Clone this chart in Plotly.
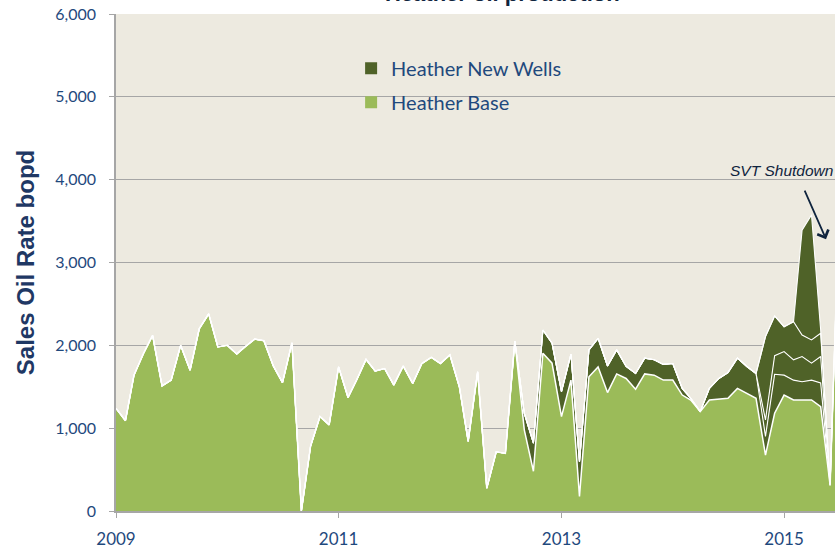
import plotly.graph_objects as go
import pandas as pd

# Monthly dates Jan 2009 .. Jul 2015
months = pd.date_range("2009-01-01", "2015-07-01", freq="MS")

base = [
    1240, 1090, 1640, 1900, 2120, 1510, 1580, 2000, 1700, 2200, 2380, 1980,  # 2009
    2000, 1895, 1985, 2075, 2055, 1750, 1550, 2030, 0, 780, 1140, 1040,      # 2010
    1740, 1370, 1580, 1830, 1690, 1720, 1520, 1750, 1540, 1780, 1855, 1780,  # 2011
    1885, 1500, 840, 1680, 275, 715, 695, 2050, 980, 480, 1905, 1785,        # 2012
    1140, 1580, 175, 1620, 1740, 1430, 1655, 1600, 1470, 1655, 1640, 1580,   # 2013
    1580, 1400, 1340, 1200, 1340, 1350, 1360, 1480, 1420, 1360, 675, 1180,   # 2014
    1400, 1340, 1340, 1340, 1260, 310, 3700,                                 # 2015
]

new_wells_a = [0] * 44 + [
    200, 340, 280, 240,                                                      # Sep-Dec 2012
    300, 315, 420, 325, 345, 320, 290, 145, 190, 190, 185, 190,              # 2013
    200, 80, 20, 0, 140, 250, 310, 365, 325, 300, 225, 470,                  # 2014
    240, 240, 220, 240, 285, 0, 0,                                           # 2015
]
new_wells_b = [0] * 70 + [200, 225, 285, 245, 305, 205, 320, 0, 0]
new_wells_c = [0] * 70 + [1005, 480, 300, 460, 260, 280, 280, 15, 0]
new_wells_d = [0] * 72 + [0, 0, 1265, 1510, 40, 0, 0]

series_names = ["Heather Base", "Heather New Wells"]
BASE_COLOR = "#9BBB59"
NEW_COLOR = "#4F6228"
TEXT_BLUE = "#1F497D"
NAVY = "#0F243E"

fig = go.Figure()

fig.add_trace(go.Scatter(
    x=months, y=base, stackgroup="s", mode="lines",
    line=dict(color="white", width=1.5), fillcolor=BASE_COLOR,
    name=series_names[0], showlegend=False, hoverinfo="skip",
))
for arr in [new_wells_a, new_wells_b, new_wells_c, new_wells_d]:
    fig.add_trace(go.Scatter(
        x=months, y=arr, stackgroup="s", mode="lines",
        line=dict(color="white", width=1.1), fillcolor=NEW_COLOR,
        name=series_names[1], showlegend=False, hoverinfo="skip",
    ))

# legend-only entries
fig.add_trace(go.Scatter(
    x=[None], y=[None], mode="markers", name=series_names[1],
    marker=dict(symbol="square", size=12, color=NEW_COLOR),
    legendgroup="g1",
))
fig.add_trace(go.Scatter(
    x=[None], y=[None], mode="markers", name=series_names[0],
    marker=dict(symbol="square", size=12, color=BASE_COLOR),
    legendgroup="g2",
))

fig.update_layout(
    width=835, height=548,
    margin=dict(l=116, r=0, t=14, b=37),
    paper_bgcolor="white",
    plot_bgcolor="#EDEAE0",
    showlegend=True,
    legend=dict(
        x=0.327, y=0.93, xanchor="left", yanchor="top",
        font=dict(family="Lato", size=20, color=TEXT_BLUE),
        bgcolor="rgba(0,0,0,0)", traceorder="grouped", tracegroupgap=5,
    ),
    xaxis=dict(
        type="date", range=["2009-01-01", "2015-06-17"],
        tick0="2009-01-01", dtick="M24", tickformat="%Y",
        ticks="outside", ticklen=5, tickcolor="#A6A6A6",
        showgrid=False, showline=True, linecolor="#A6A6A6", linewidth=1.5,
        tickfont=dict(family="Lato", size=17, color=TEXT_BLUE),
        ticklabelstandoff=7,
        zeroline=False, automargin=False,
    ),
    yaxis=dict(
        range=[0, 6000], dtick=1000, tickformat=",",
        ticks="outside", ticklen=5, tickcolor="#A6A6A6",
        showgrid=True, gridcolor="#A6A6A6", gridwidth=1,
        showline=True, linecolor="#A6A6A6", linewidth=1.5,
        zeroline=False, automargin=False,
        tickfont=dict(family="Lato", size=16, color=TEXT_BLUE),
        ticklabelstandoff=10,
        title=dict(text="<b>Sales Oil Rate bopd</b>", standoff=14,
                   font=dict(family="Liberation Sans", size=24, color="#1F3864")),
    ),
    annotations=[
        dict(text="<b>Heather oil production</b>", xref="paper", yref="paper",
             x=0.537, y=1.042, xanchor="center", yanchor="middle", showarrow=False,
             font=dict(family="Liberation Sans", size=22, color=NAVY)),
        dict(text="<i>SVT Shutdown</i>", xref="paper", yref="paper",
             x=1.0, y=0.686, xanchor="right", yanchor="middle", showarrow=False,
             font=dict(family="Liberation Sans", size=15.5, color=NAVY)),
        dict(text="", xref="paper", yref="paper", x=0.9875, y=0.547,
             ax=-22, ay=-50, showarrow=True, arrowhead=4, arrowsize=1.3,
             arrowwidth=1.8, arrowcolor=NAVY, standoff=0),
    ],
)

fig.write_html("out.html", config={"displayModeBar": False},
               post_script="document.body.style.margin='0';")
